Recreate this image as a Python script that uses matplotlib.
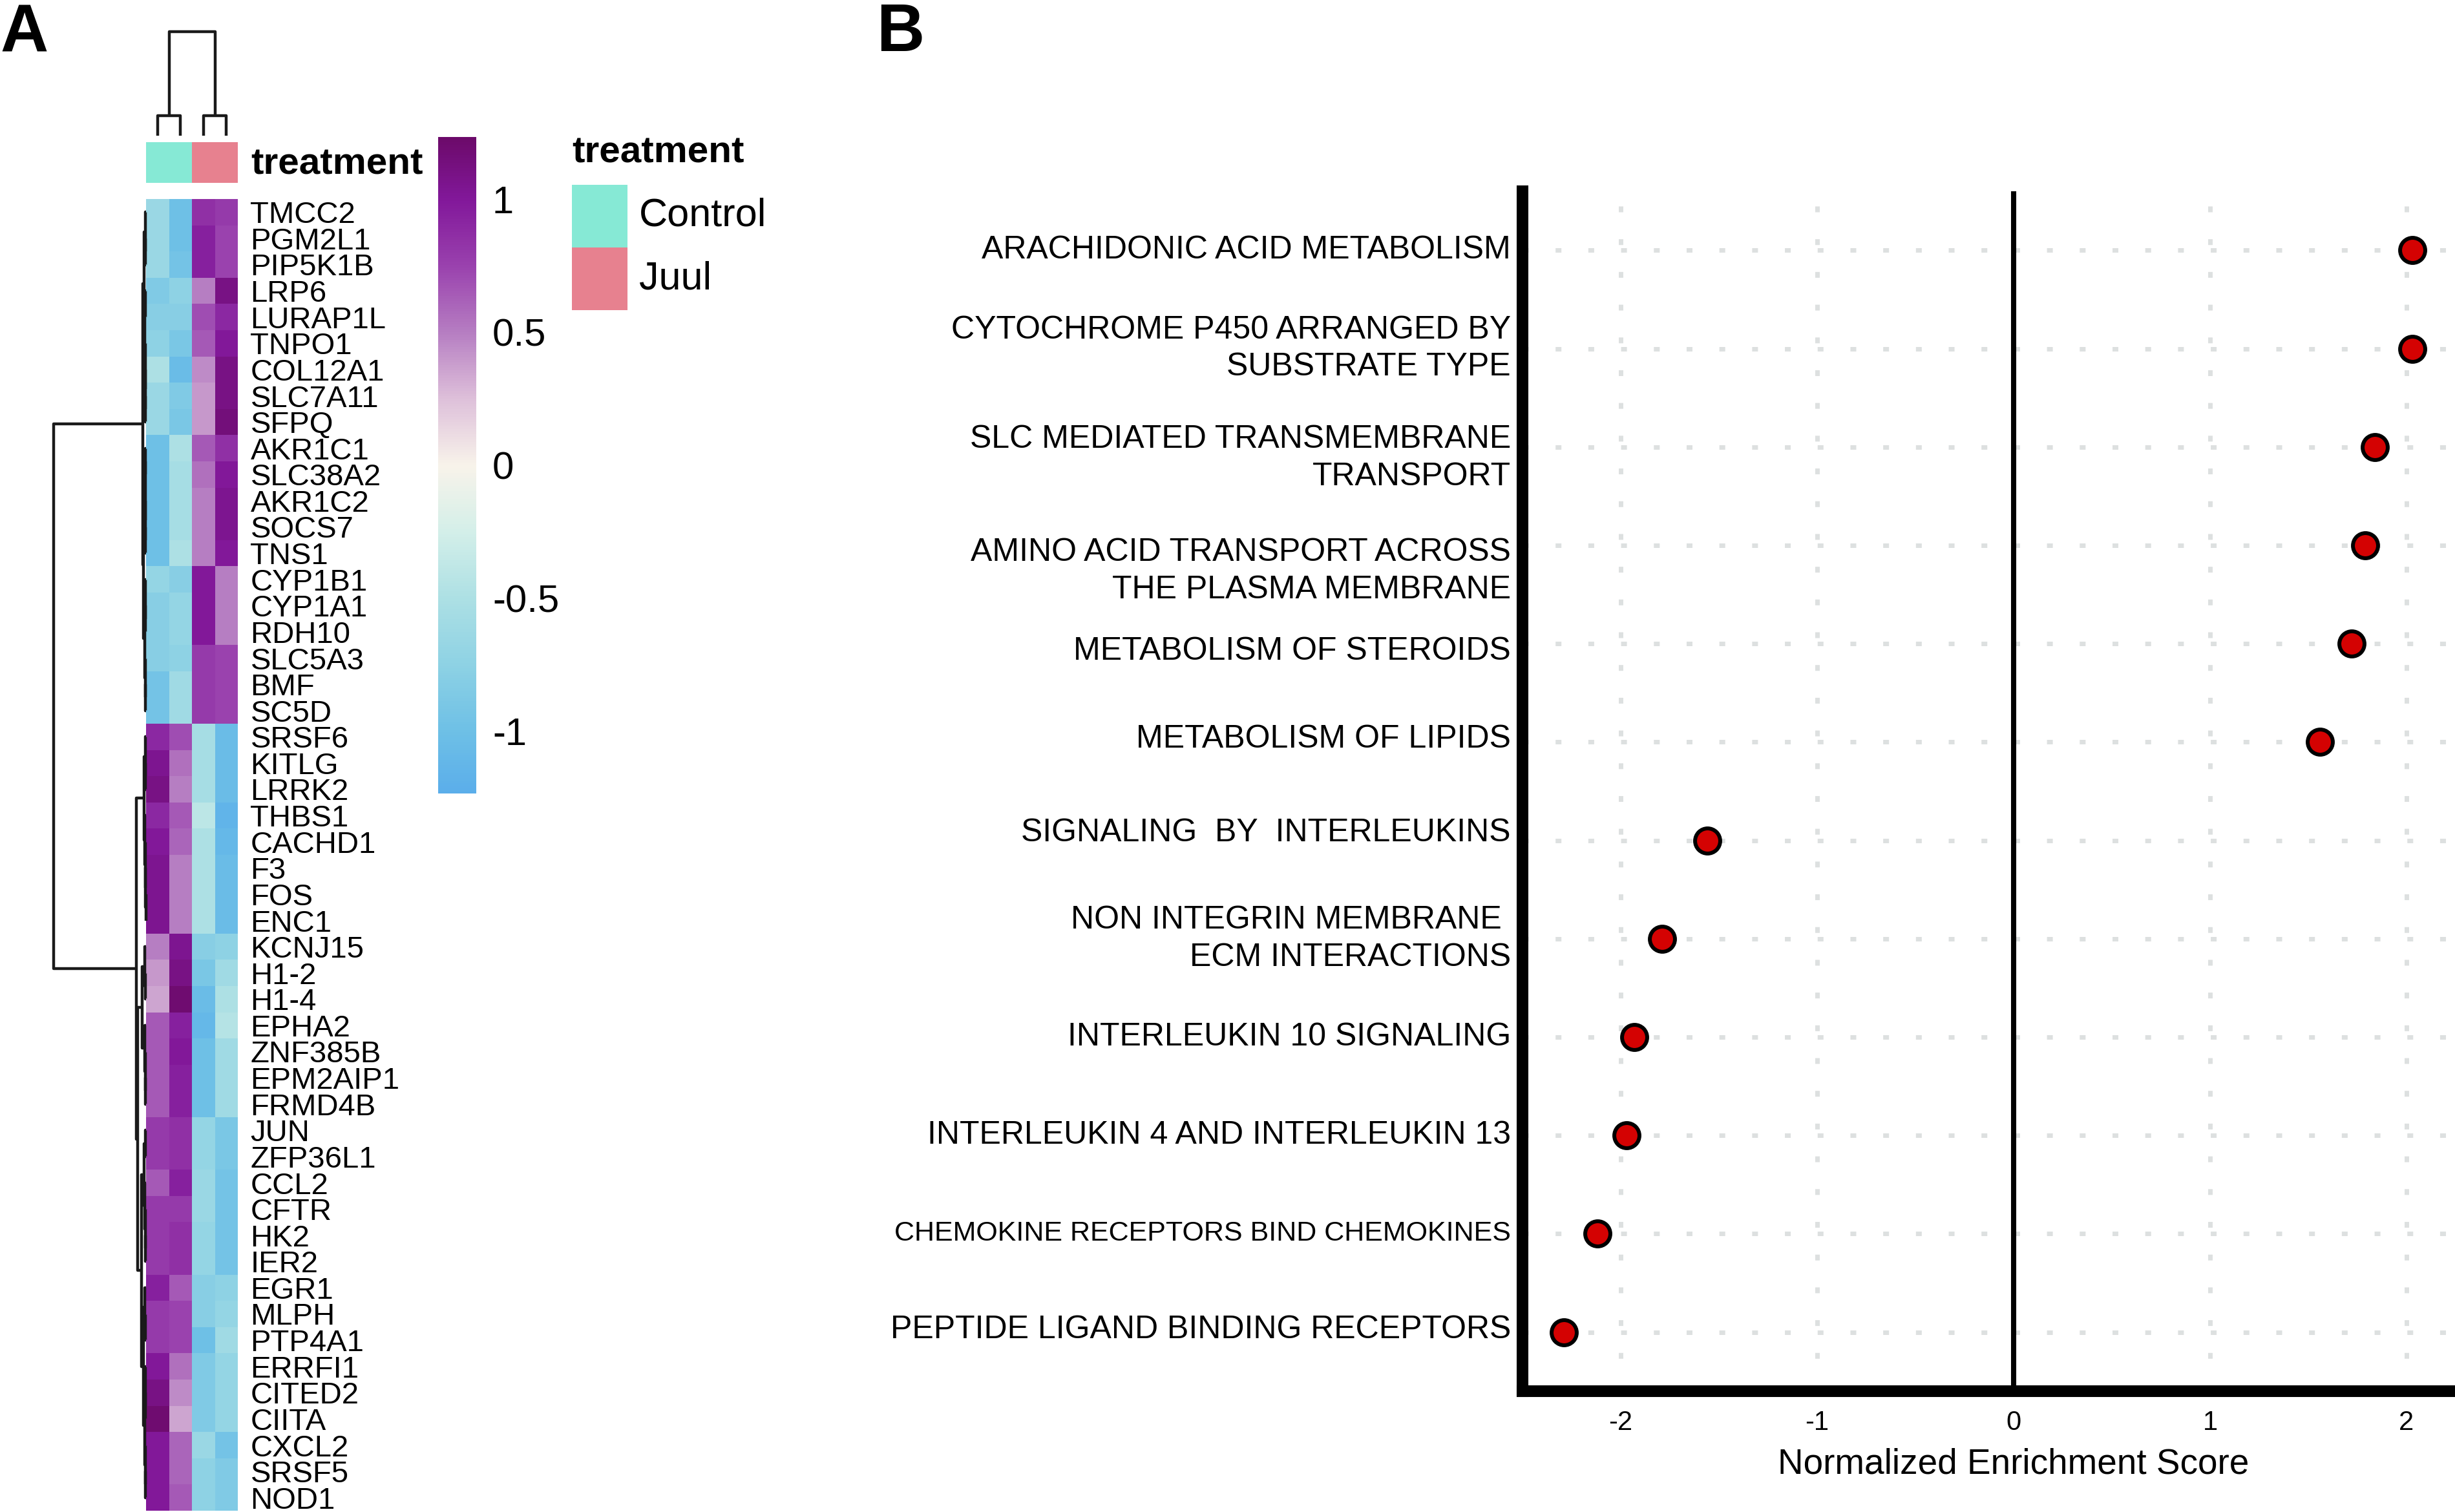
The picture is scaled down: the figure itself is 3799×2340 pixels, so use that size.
import numpy as np
import matplotlib
matplotlib.use("Agg")
import matplotlib.pyplot as plt
from matplotlib.colors import LinearSegmentedColormap, ListedColormap, Normalize
from matplotlib.cm import ScalarMappable
from matplotlib.patches import Rectangle
from matplotlib.transforms import ScaledTranslation

plt.rcParams['font.family'] = ['Liberation Sans', 'DejaVu Sans']
plt.rcParams['axes.unicode_minus'] = False

# ---------------- data: panel A (heatmap) ----------------
genes = ["TMCC2", "PGM2L1", "PIP5K1B", "LRP6", "LURAP1L", "TNPO1", "COL12A1", "SLC7A11",
         "SFPQ", "AKR1C1", "SLC38A2", "AKR1C2", "SOCS7", "TNS1", "CYP1B1", "CYP1A1",
         "RDH10", "SLC5A3", "BMF", "SC5D", "SRSF6", "KITLG", "LRRK2", "THBS1", "CACHD1",
         "F3", "FOS", "ENC1", "KCNJ15", "H1-2", "H1-4", "EPHA2", "ZNF385B", "EPM2AIP1",
         "FRMD4B", "JUN", "ZFP36L1", "CCL2", "CFTR", "HK2", "IER2", "EGR1", "MLPH",
         "PTP4A1", "ERRFI1", "CITED2", "CIITA", "CXCL2", "SRSF5", "NOD1"]

control_1 = [-0.65, -0.65, -0.65, -0.85, -0.80, -0.75, -0.50, -0.65, -0.65, -1.00,
             -1.00, -1.00, -1.00, -1.00, -0.70, -0.80, -0.80, -0.80, -0.95, -0.95,
             0.90, 1.05, 1.10, 0.90, 1.00, 1.05, 1.05, 1.05, 0.50, 0.40,
             0.35, 0.65, 0.65, 0.65, 0.65, 0.80, 0.80, 0.65, 0.80, 0.80,
             0.80, 0.95, 0.80, 0.80, 1.00, 1.10, 1.20, 1.00, 1.00, 1.00]
control_2 = [-1.00, -1.00, -0.95, -0.75, -0.80, -0.90, -1.05, -0.85, -0.90, -0.50,
             -0.55, -0.55, -0.55, -0.50, -0.80, -0.70, -0.70, -0.75, -0.60, -0.60,
             0.70, 0.55, 0.50, 0.65, 0.60, 0.50, 0.50, 0.50, 1.05, 1.10,
             1.20, 0.95, 1.00, 0.95, 0.95, 0.85, 0.85, 0.95, 0.80, 0.85,
             0.85, 0.65, 0.75, 0.75, 0.55, 0.45, 0.35, 0.60, 0.60, 0.65]
juul_1 = [0.85, 0.95, 0.95, 0.50, 0.70, 0.65, 0.45, 0.40, 0.40, 0.65,
          0.55, 0.50, 0.50, 0.50, 1.00, 1.00, 1.00, 0.80, 0.80, 0.80,
          -0.55, -0.55, -0.55, -0.40, -0.50, -0.50, -0.50, -0.50, -0.80, -0.90,
          -1.05, -1.10, -1.00, -1.00, -1.00, -0.70, -0.70, -0.65, -0.65, -0.70,
          -0.70, -0.80, -0.80, -1.00, -0.85, -0.85, -0.85, -0.65, -0.75, -0.75]
juul_2 = [0.80, 0.75, 0.75, 1.10, 0.90, 1.00, 1.10, 1.10, 1.15, 0.85,
          1.00, 1.05, 1.05, 1.00, 0.50, 0.50, 0.50, 0.75, 0.75, 0.75,
          -1.05, -1.05, -1.05, -1.15, -1.10, -1.05, -1.05, -1.05, -0.75, -0.60,
          -0.50, -0.45, -0.60, -0.60, -0.60, -0.90, -0.90, -0.95, -0.95, -0.95,
          -0.95, -0.75, -0.70, -0.60, -0.70, -0.70, -0.70, -0.95, -0.85, -0.85]

sample_groups = ["Control", "Control", "Juul", "Juul"]
groups = ["Control", "Juul"]
group_colors = ["#86E9D5", "#E7818F"]

# row dendrogram: [height, left, right]; leaves are row indices
row_tree = [10.0,
            [0.35,
             [0.22, [0.08, 0, [0.05, 1, 2]],
              [0.15, [0.06, 3, 4], [0.10, 5, [0.07, 6, [0.04, 7, 8]]]]],
             [0.25, [0.10, [0.05, 9, 10], [0.07, 11, [0.04, 12, 13]]],
              [0.12, [0.06, 14, [0.04, 15, 16]], [0.06, 17, [0.04, 18, 19]]]]],
            [1.05,
             [0.21, [0.10, 20, [0.06, 21, 22]],
              [0.12, 23, [0.08, 24, [0.05, 25, [0.03, 26, 27]]]]],
             [0.91,
              [0.42, [0.15, 28, [0.08, 29, 30]], [0.12, 31, [0.07, 32, [0.04, 33, 34]]]],
              [0.49,
               [0.20, [0.08, 35, 36], [0.12, 37, [0.07, 38, [0.05, 39, 40]]]],
               [0.25, [0.12, 41, [0.08, 42, 43]],
                [0.15, [0.08, 44, [0.05, 45, 46]], [0.07, 47, [0.04, 48, 49]]]]]]]]
col_tree = [1.0, [0.19, 0, 1], [0.19, 2, 3]]

cbar_ticks = [1, 0.5, 0, -0.5, -1]
vlim = 1.235

# ---------------- data: panel B (dot plot) ----------------
pathways = ["ARACHIDONIC ACID METABOLISM",
            "CYTOCHROME P450 ARRANGED BY\nSUBSTRATE TYPE",
            "SLC MEDIATED TRANSMEMBRANE\nTRANSPORT",
            "AMINO ACID TRANSPORT ACROSS\nTHE PLASMA MEMBRANE",
            "METABOLISM OF STEROIDS",
            "METABOLISM OF LIPIDS",
            "SIGNALING  BY  INTERLEUKINS",
            "NON INTEGRIN MEMBRANE \nECM INTERACTIONS",
            "INTERLEUKIN 10 SIGNALING",
            "INTERLEUKIN 4 AND INTERLEUKIN 13",
            "CHEMOKINE RECEPTORS BIND CHEMOKINES",
            "PEPTIDE LIGAND BINDING RECEPTORS"]
nes = [2.03, 2.03, 1.84, 1.79, 1.72, 1.56, -1.56, -1.79, -1.93, -1.97, -2.12, -2.29]
nes_ticks = [-2, -1, 0, 1, 2]
# label nudges in pixels (positive = downward), as placed in the source figure
label_nudge_px = [0, 0, 17, 40, 12, -4, -12, 0, 0, 0, 0, -4]

# ---------------- figure ----------------
W, H, DPI = 3799, 2340, 100
fig = plt.figure(figsize=(W / DPI, H / DPI), dpi=DPI)


def rect(x0, y0, x1, y1):
    return [x0 / W, 1 - y1 / H, (x1 - x0) / W, (y1 - y0) / H]


cmap_values = [-1.235, -1.0, -0.75, -0.5, -0.25, 0.0, 0.25, 0.5, 0.75, 1.0, 1.235]
cmap_colors = ['#5BAEEA', '#6EC0E6', '#8ED2E4', '#ADE0E4', '#D4EFE9', '#F8F3EA',
               '#DEC0DA', '#B67EC2', '#9A42AE', '#82189A', '#6C0A6A']
cmap = LinearSegmentedColormap.from_list(
    "hm", [((v + vlim) / (2 * vlim), c) for v, c in zip(cmap_values, cmap_colors)])
norm = Normalize(-vlim, vlim)

data = np.column_stack([control_1, control_2, juul_1, juul_2])
nrow, ncol = data.shape

# heatmap
ax_hm = fig.add_axes(rect(226, 308, 368, 2338))
ax_hm.pcolormesh(np.arange(ncol + 1), np.arange(nrow + 1), data, cmap=cmap, norm=norm)
ax_hm.set_xlim(0, ncol)
ax_hm.set_ylim(nrow, 0)
for s in ax_hm.spines.values():
    s.set_visible(False)
ax_hm.set_xticks([])
ax_hm.yaxis.tick_right()
ax_hm.set_yticks(np.arange(nrow) + 0.5)
ax_hm.set_yticklabels(genes, fontsize=34)
ax_hm.tick_params(axis='y', length=0, pad=14)


def draw_tree(ax, node, leaf_pos, orient):
    if isinstance(node, int):
        return leaf_pos[node], 0.0
    h, l, r = node
    pl, hl = draw_tree(ax, l, leaf_pos, orient)
    pr, hr = draw_tree(ax, r, leaf_pos, orient)
    hs = [hl, h, h, hr]
    ps = [pl, pl, pr, pr]
    if orient == 'left':
        ax.plot(hs, ps, color='#1a1a1a', lw=3.2, solid_capstyle='butt', clip_on=False)
    else:
        ax.plot(ps, hs, color='#1a1a1a', lw=3.2, solid_capstyle='butt', clip_on=False)
    return (pl + pr) / 2, h


# row dendrogram
ax_rd = fig.add_axes(rect(83, 308, 226, 2338))
draw_tree(ax_rd, row_tree, np.arange(nrow) + 0.5, 'left')
ax_rd.set_xlim(row_tree[0], 0)
ax_rd.set_ylim(nrow, 0)
ax_rd.axis('off')

# column dendrogram
ax_cd = fig.add_axes(rect(226, 49, 368, 210))
draw_tree(ax_cd, col_tree, np.arange(ncol) + 0.5, 'top')
ax_cd.set_xlim(0, ncol)
ax_cd.set_ylim(0, col_tree[0])
ax_cd.axis('off')

# annotation bar
ax_an = fig.add_axes(rect(226, 220, 368, 283))
codes = np.array([[groups.index(g) for g in sample_groups]])
ax_an.pcolormesh(np.arange(ncol + 1), [0, 1], codes, cmap=ListedColormap(group_colors),
                 vmin=-0.5, vmax=len(groups) - 0.5)
ax_an.set_xlim(0, ncol)
ax_an.axis('off')
fig.text(388 / W, 1 - 254 / H, "treatment", fontsize=42, fontweight='bold',
         ha='left', va='center')

# colorbar
cax = fig.add_axes(rect(678, 212, 737, 1228))
cb = fig.colorbar(ScalarMappable(norm=norm, cmap=cmap), cax=cax, ticks=cbar_ticks)
cb.outline.set_visible(False)
cb.ax.set_yticklabels([f"{t:g}" for t in cbar_ticks])
cax.tick_params(length=0, labelsize=43, pad=18)

# legend
fig.text(885 / W, 1 - 237 / H, "treatment", fontsize=42, fontweight='bold',
         ha='left', va='center')
sw_top = 286
sw_h = 97
for i, (g, c) in enumerate(zip(groups, group_colors)):
    y0 = sw_top + i * sw_h
    fig.patches.append(Rectangle((885 / W, 1 - (y0 + sw_h) / H), 86 / W, sw_h / H,
                                 transform=fig.transFigure, facecolor=c, edgecolor='none'))
    fig.text(989 / W, 1 - (y0 + sw_h / 2) / H, g, fontsize=44, ha='left', va='center')

# panel letters
fig.text(0 / W, 1 - 4 / H, "A", fontsize=74, fontweight='bold', ha='left', va='top')
fig.text(1356 / W, 1 - 4 / H, "B", fontsize=74, fontweight='bold', ha='left', va='top')

# ---------------- panel B ----------------
ax = fig.add_axes(rect(2356, 296, 3876, 2153))
ypos = np.arange(len(pathways))
ax.set_xlim(-2.5, 2.5)
ax.set_ylim(len(pathways) - 0.4, -0.6)
ax.set_axisbelow(True)
grid_style = dict(color='#DDE0E0', linewidth=5.0, linestyle=(0, (1.3, 6)))
for yv in ypos:
    ax.axhline(yv, zorder=0, **grid_style)
for xv in nes_ticks:
    if xv != 0:
        ax.axvline(xv, zorder=0, **grid_style)
ax.axvline(0, color='black', lw=5.8, zorder=2)
ax.scatter(nes, ypos, s=28 ** 2, c='#D40202', edgecolors='black', linewidths=4.3,
           zorder=5, clip_on=False)
for side in ['top', 'right']:
    ax.spines[side].set_visible(False)
for side in ['left', 'bottom']:
    ax.spines[side].set_linewidth(13)
    ax.spines[side].set_color('black')
ax.set_yticks(ypos)
ax.set_yticklabels(pathways, fontsize=36, linespacing=1.33, va='center')
for lab in ax.get_yticklabels():
    if lab.get_text().startswith("CHEMOKINE"):
        lab.set_fontsize(31)
ax.set_xticks(nes_ticks)
ax.set_xticklabels([str(t) for t in nes_ticks])
ax.tick_params(axis='y', length=0, pad=13)
ax.tick_params(axis='x', length=0, pad=21, labelsize=30)
ax.set_xlabel("Normalized Enrichment Score", fontsize=39.5, labelpad=13)

for tick, dy in zip(ax.yaxis.get_major_ticks(), label_nudge_px):
    tick.label1.set_transform(tick.label1.get_transform() +
                              ScaledTranslation(0, -dy / DPI, fig.dpi_scale_trans))

fig.savefig("out.png", dpi=DPI)
